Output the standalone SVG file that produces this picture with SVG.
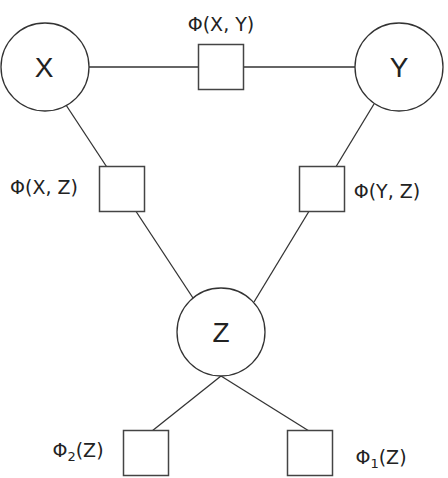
<svg xmlns="http://www.w3.org/2000/svg" width="448" height="478" viewBox="0 0 448 478">
<style>
.var{fill:#fff;stroke:#333;stroke-width:1.3}
.fac{fill:#fff;stroke:#444;stroke-width:1.5}
.edge{stroke:#333;stroke-width:1.3;fill:none}
.vl{font-family:"Liberation Sans",Arial,sans-serif;font-size:28px;fill:#222;text-anchor:middle}
.fl{font-family:"DejaVu Sans",sans-serif;font-size:19px;fill:#222;text-anchor:middle}
.sub{font-size:13px}
</style>
<rect width="448" height="478" fill="#fff"/>
<g id="connectors">
<line class="edge" x1="89" y1="67" x2="355" y2="67"/>
<line class="edge" x1="66" y1="105" x2="193" y2="298"/>
<line class="edge" x1="374" y1="104" x2="254" y2="302"/>
<line class="edge" x1="221" y1="376" x2="152" y2="431"/>
<line class="edge" x1="221" y1="376" x2="309" y2="431"/>
</g>
<g id="X"><circle class="var" cx="45" cy="67" r="44"/><text class="vl" x="44" y="77">X</text></g>
<g id="Y"><circle class="var" cx="399" cy="67" r="44"/><text class="vl" x="399" y="77">Y</text></g>
<g id="Z"><circle class="var" cx="221" cy="332" r="44"/><text class="vl" x="221" y="342">Z</text></g>
<g id="fXY"><rect class="fac" x="198.5" y="44.5" width="45" height="45"/><text class="fl" x="221" y="31">Φ(X, Y)</text></g>
<g id="fXZ"><rect class="fac" x="99.5" y="166.5" width="45" height="45"/><text class="fl" x="44" y="194">Φ(X, Z)</text></g>
<g id="fYZ"><rect class="fac" x="299.5" y="166.5" width="45" height="45"/><text class="fl" x="387" y="198">Φ(Y, Z)</text></g>
<g id="f2Z"><rect class="fac" x="123.5" y="430.5" width="45" height="45"/><text class="fl" x="78" y="457">Φ<tspan class="sub" dy="4">2</tspan><tspan dy="-4">(Z)</tspan></text></g>
<g id="f1Z"><rect class="fac" x="287.5" y="430.5" width="45" height="45"/><text class="fl" x="381" y="464">Φ<tspan class="sub" dy="4">1</tspan><tspan dy="-4">(Z)</tspan></text></g>
</svg>
